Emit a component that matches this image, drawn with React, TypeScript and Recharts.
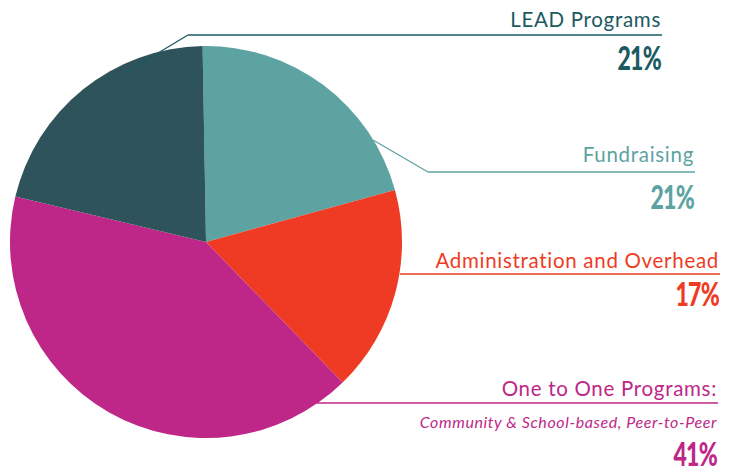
import { PieChart, Pie, Cell } from 'recharts';

const categories = ['Fundraising', 'Administration and Overhead', 'One to One Programs:', 'LEAD Programs'];
const values = [21, 17, 41, 21];
const subtitles = ['', '', 'Community & School-based, Peer-to-Peer', ''];

const sliceColors = ['#5CA3A2', '#EF3B24', '#BE2788', '#2F535A'];
const textColors = ['#5CA3A2', '#EF3B24', '#BE2788', '#1B5A61'];

const data = categories.map((name, i) => ({ name, value: values[i], sub: subtitles[i] }));

// label placement, one entry per slice
const layout = [
  { right: 694, nameY: 162, ruleY: 172, ruleX: 428, leader: [373, 140], pctY: 209 },
  { right: 719, nameY: 268, ruleY: 274, ruleX: 400, leader: null, pctY: 306 },
  { right: 717, nameY: 396, ruleY: 403, ruleX: 317, leader: null, subY: 428, pctY: 466 },
  { right: 661, nameY: 27, ruleY: 35, ruleX: 188, leader: [123, 74], pctY: 70 },
];

const labelFont = 'Lato, "Noto Sans", sans-serif';

const renderLabel = (props: any) => {
  const i = props.index;
  const l = layout[i];
  const c = textColors[i];
  const item = data[i];
  return (
    <g key={`lbl-${i}`}>
      {l.leader && (
        <line x1={l.leader[0]} y1={l.leader[1]} x2={l.ruleX} y2={l.ruleY} stroke={c} strokeWidth={1.3} />
      )}
      <line x1={l.ruleX} y1={l.ruleY} x2={l.right + 1} y2={l.ruleY} stroke={c} strokeWidth={1.3} />
      <text
        x={l.right}
        y={l.nameY}
        textAnchor="end"
        fill={c}
        fontFamily={labelFont}
        fontSize={20.5}
        letterSpacing={0.7}
      >
        {item.name}
      </text>
      {item.sub && (
        <text
          x={l.right}
          y={l.subY}
          textAnchor="end"
          fill={c}
          fontFamily={labelFont}
          fontStyle="italic"
          fontSize={16}
          letterSpacing={0.6}
        >
          {item.sub}
        </text>
      )}
      <text
        transform={`translate(${l.right},${l.pctY}) scale(0.72,1)`}
        x={0}
        y={0}
        textAnchor="end"
        fill={c}
        fontFamily={labelFont}
        fontWeight={900}
        fontSize={32}
        letterSpacing={-1}
      >
        {`${item.value}%`}
      </text>
    </g>
  );
};

export default function App() {
  return (
    <div style={{ position: 'absolute', left: 0, top: 0, background: '#ffffff' }}>
      <PieChart width={737} height={472} margin={{ top: 0, right: 0, bottom: 0, left: 0 }}>
        <Pie
          data={data}
          dataKey="value"
          nameKey="name"
          cx={206}
          cy={242}
          outerRadius={196}
          startAngle={91}
          endAngle={-269}
          stroke="none"
          label={renderLabel}
          labelLine={false}
          isAnimationActive={false}
        >
          {data.map((d, i) => (
            <Cell key={d.name} fill={sliceColors[i]} />
          ))}
        </Pie>
      </PieChart>
    </div>
  );
}
